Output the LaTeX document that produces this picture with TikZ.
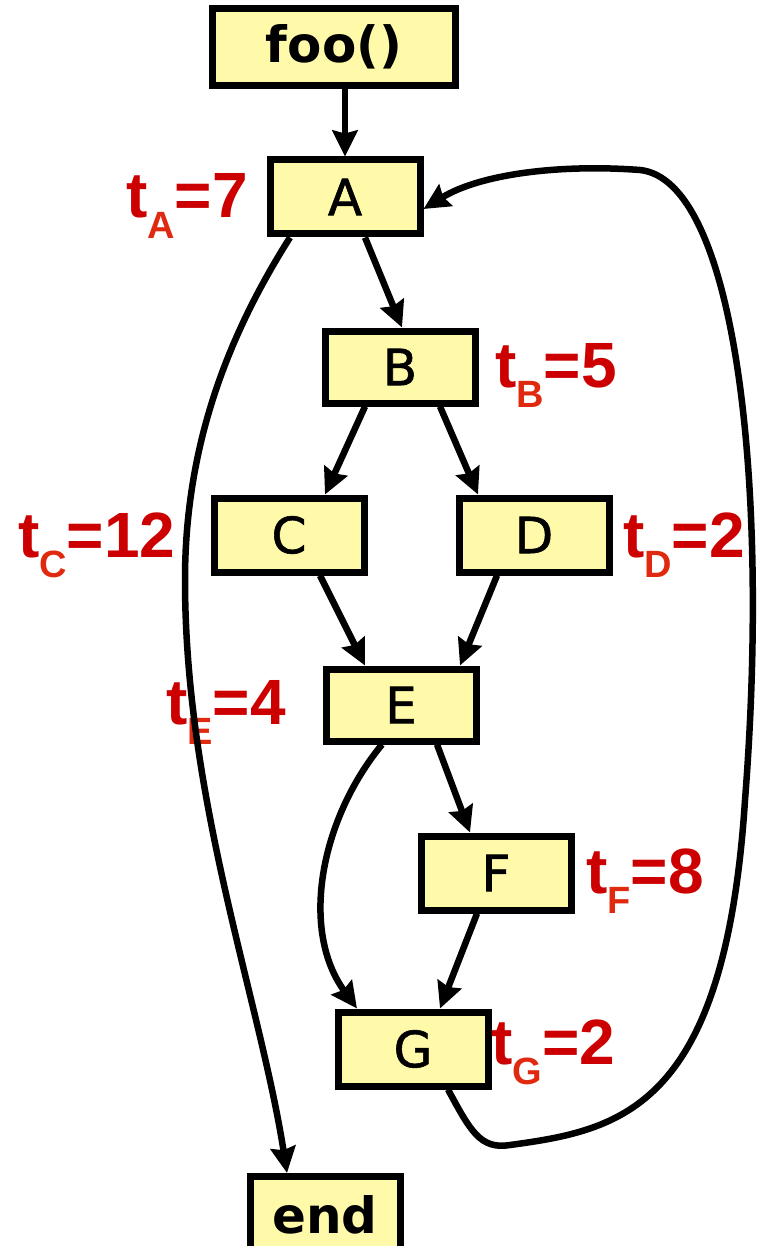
\documentclass[tikz,border=0pt]{standalone}
\usepackage{fontspec}
\setmainfont{DejaVu Sans}
\newfontfamily\boxfont[FakeBold=1.2]{DejaVu Sans}
\newfontfamily\lblfont{Liberation Sans}
\usetikzlibrary{arrows.meta}
\definecolor{boxfill}{HTML}{FFFAAA}
\definecolor{lblred}{HTML}{CC0000}
\definecolor{subred}{HTML}{E02A10}
\newcommand{\tlbl}[2]{{\lblfont\bfseries\color{lblred}t\raisebox{-0.32em}{\color{subred}\fontsize{38}{38}\selectfont #1}=#2}}
\begin{document}
\begin{tikzpicture}[x=1pt,y=-1pt,
  blk/.style={draw=black,line width=7pt,fill=boxfill,minimum width=150pt,minimum height=74pt,inner sep=0pt,font=\boxfont\fontsize{50}{50}\selectfont},
  lbl/.style={anchor=base west,inner sep=0pt,font=\fontsize{64}{64}\selectfont},
  arr/.style={line width=6.5pt,-{Stealth[length=26pt,width=25pt,inset=3pt]}}]
\useasboundingbox (0,0) rectangle (763,1246);
\clip (0,0) rectangle (763,1246);
\node[blk,minimum width=243pt,minimum height=77pt,font=\fontsize{50}{50}\selectfont\bfseries] (foo) at (334,47) {foo()};
\node[blk] (A) at (345,197) {A};
\node[blk,minimum height=72pt] (B) at (400,367) {B};
\node[blk] (C) at (289,535) {C};
\node[blk] (D) at (534,535) {D};
\node[blk,minimum height=72pt] (E) at (401,705) {E};
\node[blk] (F) at (496,873) {F};
\node[blk] (G) at (413,1049) {G};
\node[blk,minimum height=77pt,font=\fontsize{50}{50}\selectfont\bfseries] (end) at (325,1215) {end};

\node[lbl] (lA) at (126,218) {\tlbl{A}{7}};
\node[lbl] (lB) at (495,387) {\tlbl{B}{5}};
\node[lbl] (lC) at (18,557) {\tlbl{C}{12}};
\node[lbl] (lD) at (623,557) {\tlbl{D}{2}};
\node[lbl] (lE) at (166,724) {\tlbl{E}{4}};
\node[lbl] (lF) at (586,893) {\tlbl{F}{8}};
\node[lbl] (lG) at (491,1064) {\tlbl{G}{2}};

\draw[arr] ([xshift=11pt]foo.south) -- (A.north);
\draw[arr] ([xshift=20pt]A.south) -- ([xshift=2pt]B.north);
\draw[arr] ([xshift=-35pt]B.south) -- ([xshift=36pt]C.north);
\draw[arr] ([xshift=40pt]B.south) -- ([xshift=-56pt]D.north);
\draw[arr] ([xshift=31pt]C.south) -- ([xshift=-36pt]E.north);
\draw[arr] ([xshift=-37pt]D.south) -- ([xshift=59pt]E.north);
\draw[arr] ([xshift=36pt]E.south) -- ([xshift=-26pt]F.north);
\draw[arr] ([xshift=-19pt]F.south) -- ([xshift=27pt]G.north);
\draw[arr] ([xshift=-19pt]E.south) .. controls (320,820) and (300,930) .. ([xshift=-56pt]G.north);
\draw[arr] ([xshift=-55pt]A.south) .. controls (225,340) and (185,450) .. (185,580)
   .. controls (185,800) and (260,1000) .. ([xshift=-38pt]end.north);
\draw[arr] ([xshift=35pt]G.south) .. controls (470,1130) and (480,1150) .. (510,1145)
   .. controls (620,1130) and (725,1110) .. (745,800)
   .. controls (770,480) and (735,180) .. (640,170)
   .. controls (560,164) and (480,174) .. ([yshift=-12pt]A.east);
\end{tikzpicture}
\end{document}
